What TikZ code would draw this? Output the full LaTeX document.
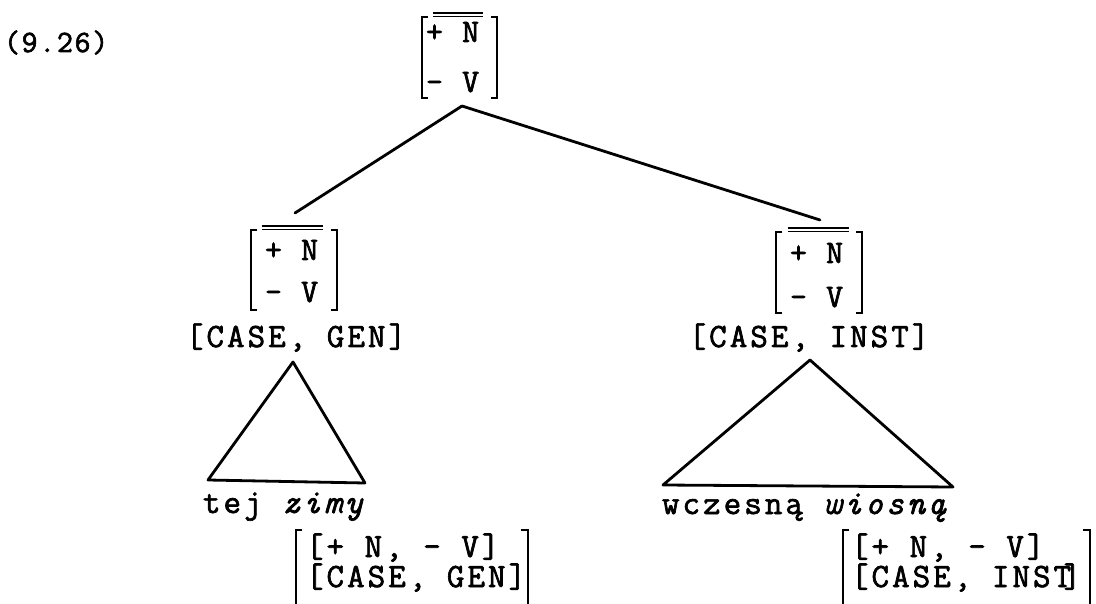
\documentclass[tikz,border=0pt]{standalone}
\usepackage{fontspec}
\newfontfamily\tw[FakeBold=2, LetterSpace=9]{Latin Modern Mono}
\newfontfamily\twm[FakeBold=2, LetterSpace=6.5]{Latin Modern Mono}
\newfontfamily\twn[FakeBold=2, LetterSpace=5.5]{Latin Modern Mono}
\begin{document}
\begin{tikzpicture}[x=1pt,y=-1pt,
  txt/.style={inner sep=0pt, outer sep=0pt, anchor=base west, font=\tw\fontsize{34}{30}\selectfont},
  mtx/.style={inner sep=0pt, outer sep=0pt, anchor=base west, font=\twm\fontsize{33}{36}\selectfont},
  lne/.style={line width=2.8pt, line cap=round, line join=round},
  brk/.style={line width=2.6pt},
  bar/.style={line width=1.6pt}]
\useasboundingbox[fill=white] (0,0) rectangle (1096,604);

% example number
\node[txt, font=\twn\fontsize{31}{34}\selectfont] (num) at (4,52) {(9.26)};

% top matrix
\node[mtx] (t1) at (426,42) {+ N};
\node[mtx] (t2) at (426,92) {- V};
\draw[brk] (428,17) -- (422,17) -- (422,98) -- (428,98);
\draw[brk] (491,17) -- (497,17) -- (497,98) -- (491,98);
\draw[bar] (433,13) -- (483,13) (433,16.5) -- (483,16.5);

% left matrix
\node[mtx] (l1) at (265,260) {+ N};
\node[mtx] (l2) at (265,302) {- V};
\draw[brk] (257,230) -- (251,230) -- (251,310) -- (257,310);
\draw[brk] (331,230) -- (337,230) -- (337,310) -- (331,310);
\draw[bar] (262,226) -- (323,226) (262,229.5) -- (323,229.5);
\node[txt, anchor=base] (lcase) at (296,347) {[CASE, GEN]};

% right matrix
\node[mtx] (r1) at (790,263) {+ N};
\node[mtx] (r2) at (790,307) {- V};
\draw[brk] (782,232) -- (776,232) -- (776,313) -- (782,313);
\draw[brk] (856,232) -- (862,232) -- (862,313) -- (856,313);
\draw[bar] (788,228) -- (849,228) (788,231.5) -- (849,231.5);
\node[txt, anchor=base] (rcase) at (809,347) {[CASE, INST]};

% branches
\coordinate (apex) at (462,106);
\coordinate (lend) at (295,213);
\coordinate (rend) at (820,220);
\draw[lne] (apex) -- (lend);
\draw[lne] (apex) -- (rend);

% triangles
\coordinate (la) at (293,362);
\coordinate (lb) at (208,480);
\coordinate (lc) at (365,483);
\draw[lne] (la) -- (lb) -- (lc) -- cycle;
\coordinate (ra) at (810,360);
\coordinate (rb) at (663,485);
\coordinate (rc) at (953,487);
\draw[lne] (ra) -- (rb) -- (rc) -- cycle;

% words
\node[txt] (lw) at (203,513) {tej \itshape zimy};
\node[txt] (rw) at (662,514) {wczesną \itshape wiosną};

% bottom feature bundles (anchor = baseline of the last line)
\node[txt, align=left] (lbun) at (306,587) {[+ N, - V]\\{}[CASE, GEN]};
\draw[brk] (302,530) -- (296,530) -- (296,604);
\draw[brk] (521,530) -- (528,530) -- (528,604);

\node[txt, align=left] (rbun) at (851,587) {[+ N, - V]\\{}[CASE, INST\kern-0.22em]};
\draw[brk] (849,530) -- (843,530) -- (843,604);
\draw[brk] (1083,530) -- (1090,530) -- (1090,604);
\end{tikzpicture}
\end{document}
